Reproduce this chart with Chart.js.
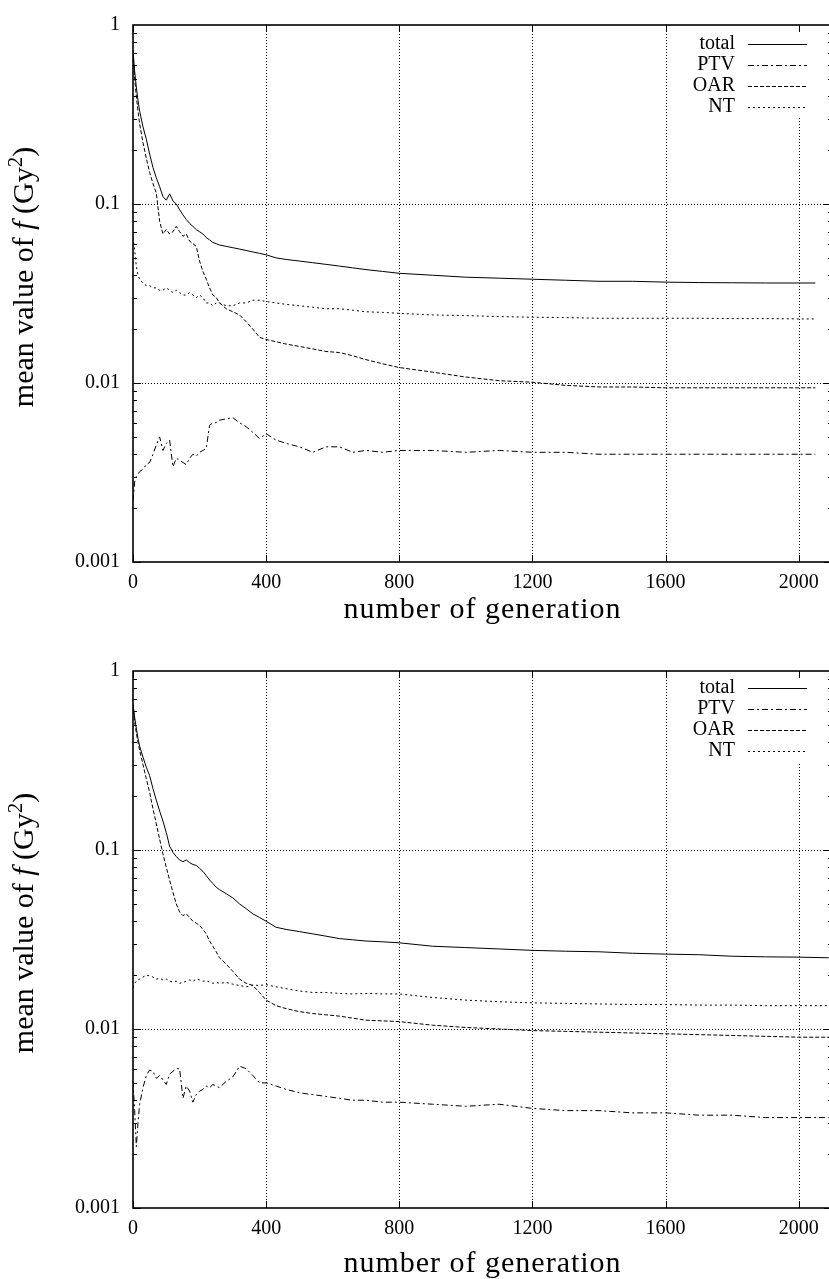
<!DOCTYPE html>
<html><head><meta charset="utf-8">
<script src="https://cdn.jsdelivr.net/npm/chart.js@4"></script>
<style>
html,body{margin:0;padding:0;background:#fff;overflow:hidden;width:829px;height:1279px;}
.wrap{position:absolute;left:0;}
canvas{display:block;}
</style></head><body>
<div class="wrap" style="top:0"><canvas id="c1" width="840" height="646"></canvas></div>
<div class="wrap" style="top:646px"><canvas id="c2" width="840" height="633"></canvas></div>
<script>
const seriesNames = ['total', 'PTV', 'OAR', 'NT'];
const xTicks = [0, 400, 800, 1200, 1600, 2000];
const yTicks = [0.001, 0.01, 0.1, 1];
const yTickLabels = ['0.001', '0.01', '0.1', '1'];
const xTitle = 'number of generation';

const genTop = [0,5,10,15,20,30,40,50,60,70,80,90,100,110,120,130,140,150,160,170,180,190,200,210,220,230,240,250,260,280,300,320,340,360,380,400,430,460,500,540,580,620,660,700,750,800,900,1000,1100,1200,1300,1400,1500,1600,1700,1800,1900,2000,2050];
const topTotal = [0.72,0.55,0.45,0.38,0.33,0.27,0.23,0.19,0.16,0.14,0.125,0.11,0.105,0.114,0.104,0.1,0.093,0.087,0.082,0.078,0.075,0.072,0.07,0.068,0.065,0.063,0.061,0.06,0.059,0.058,0.057,0.056,0.055,0.054,0.053,0.052,0.05,0.049,0.048,0.047,0.046,0.045,0.044,0.043,0.042,0.041,0.040,0.039,0.0385,0.038,0.0375,0.037,0.037,0.0366,0.0364,0.0363,0.0362,0.0362,0.0362];
const topPTV = [0.0022,0.0028,0.003,0.0031,0.0032,0.0033,0.0035,0.0036,0.004,0.0045,0.005,0.0042,0.0046,0.0048,0.0034,0.0038,0.0037,0.0036,0.0035,0.0038,0.004,0.0039,0.0041,0.0042,0.0043,0.0058,0.006,0.006,0.0062,0.0063,0.0064,0.006,0.0057,0.0053,0.0049,0.0052,0.0048,0.0046,0.0044,0.0041,0.0044,0.0044,0.0041,0.0042,0.0041,0.0042,0.0042,0.0041,0.0042,0.0041,0.0041,0.004,0.004,0.004,0.004,0.004,0.004,0.004,0.004];
const topOAR = [0.70,0.5,0.4,0.33,0.28,0.22,0.18,0.15,0.13,0.115,0.08,0.068,0.072,0.068,0.07,0.075,0.07,0.066,0.068,0.062,0.06,0.058,0.048,0.042,0.038,0.034,0.031,0.03,0.028,0.026,0.025,0.024,0.022,0.02,0.018,0.0175,0.017,0.0165,0.016,0.0155,0.015,0.0148,0.0142,0.0135,0.0128,0.0122,0.0115,0.0108,0.0103,0.0101,0.0097,0.0095,0.0095,0.0094,0.0094,0.0094,0.0094,0.0094,0.0094];
const topNT = [0.065,0.055,0.045,0.04,0.038,0.036,0.035,0.035,0.034,0.034,0.033,0.033,0.034,0.033,0.032,0.033,0.032,0.031,0.031,0.032,0.031,0.030,0.031,0.030,0.028,0.028,0.027,0.028,0.028,0.027,0.027,0.028,0.028,0.029,0.029,0.0285,0.028,0.0275,0.027,0.0265,0.026,0.026,0.0255,0.025,0.0248,0.0245,0.024,0.0238,0.0235,0.0233,0.0232,0.023,0.023,0.023,0.023,0.0229,0.0229,0.0228,0.0228];

const genBot = [0,5,10,15,20,30,40,50,60,70,80,90,100,110,120,130,140,150,160,170,180,190,200,210,220,230,240,250,260,280,300,320,340,360,380,400,430,460,500,540,580,620,660,700,750,800,900,1000,1100,1200,1300,1400,1500,1600,1700,1800,1900,2000,2090];
const botTotal = [0.65,0.55,0.48,0.42,0.38,0.33,0.29,0.26,0.22,0.19,0.165,0.145,0.125,0.105,0.097,0.092,0.088,0.086,0.088,0.085,0.083,0.082,0.079,0.076,0.072,0.068,0.065,0.062,0.06,0.057,0.054,0.05,0.047,0.044,0.042,0.040,0.037,0.036,0.035,0.034,0.033,0.032,0.0315,0.031,0.0307,0.0303,0.029,0.0285,0.028,0.0275,0.0272,0.027,0.0265,0.0262,0.026,0.0255,0.0253,0.0252,0.025];
const botPTV = [0.0051,0.0035,0.0022,0.003,0.0038,0.0047,0.0055,0.0059,0.0058,0.0053,0.0055,0.0052,0.0049,0.0056,0.0058,0.006,0.006,0.0041,0.0048,0.0045,0.0039,0.0043,0.0045,0.0046,0.0048,0.0047,0.0049,0.0048,0.0047,0.0051,0.0054,0.0062,0.006,0.0055,0.005,0.005,0.0048,0.0046,0.0044,0.0043,0.0042,0.0041,0.004,0.004,0.0039,0.0039,0.0038,0.0037,0.0038,0.0036,0.0035,0.0035,0.0034,0.0034,0.0033,0.0033,0.0032,0.0032,0.0032];
const botOAR = [0.65,0.52,0.45,0.4,0.36,0.3,0.25,0.21,0.17,0.14,0.115,0.095,0.08,0.068,0.058,0.05,0.045,0.043,0.044,0.042,0.04,0.039,0.038,0.036,0.034,0.031,0.029,0.027,0.025,0.023,0.021,0.019,0.018,0.0175,0.016,0.0145,0.0135,0.013,0.0125,0.0122,0.012,0.0118,0.0115,0.0112,0.0111,0.011,0.0105,0.0102,0.01,0.0098,0.0097,0.0096,0.0095,0.0094,0.0093,0.0092,0.0091,0.009,0.009];
const botNT = [0.017,0.018,0.0185,0.0188,0.019,0.0195,0.02,0.0198,0.0195,0.019,0.0192,0.0188,0.019,0.0185,0.0183,0.0185,0.018,0.0182,0.0185,0.0188,0.0185,0.019,0.0188,0.0185,0.0186,0.0183,0.018,0.0182,0.018,0.0182,0.0178,0.0175,0.0172,0.0176,0.0175,0.0177,0.0172,0.0168,0.0163,0.016,0.016,0.0158,0.0157,0.0158,0.0157,0.0157,0.015,0.0145,0.0142,0.014,0.0139,0.0138,0.0137,0.0137,0.0136,0.0136,0.0135,0.0135,0.0135];

const dashes = { total: [], PTV: [6, 3, 2, 3], OAR: [4, 2], NT: [2, 3] };
const TICK_FONT = '20px "Liberation Serif"';

function strokeLine(ctx, x1, y1, x2, y2) {
  ctx.beginPath(); ctx.moveTo(x1, y1); ctx.lineTo(x2, y2); ctx.stroke();
}

function makeFrame(cfg) {
  return {
    id: 'frame',
    beforeDatasetsDraw(chart) {
      const { ctx, chartArea: a, scales: { x, y } } = chart;
      ctx.save();
      ctx.strokeStyle = '#000';
      ctx.lineWidth = 1;
      ctx.setLineDash([1, 2]);
      xTicks.forEach(v => {
        if (v === 0) return;
        const px = Math.round(x.getPixelForValue(v)) + 0.5;
        strokeLine(ctx, px, a.top, px, a.bottom);
      });
      yTicks.forEach(v => {
        if (v === 1 || v === 0.001) return;
        const py = Math.round(y.getPixelForValue(v)) + 0.5;
        strokeLine(ctx, a.left, py, a.right, py);
      });
      ctx.setLineDash([]);
      ctx.fillStyle = '#fff';
      ctx.fillRect(690, a.top + 8, 130, 84);
      ctx.restore();
    },
    afterDatasetsDraw(chart) {
      const { ctx, chartArea: a, scales: { x, y } } = chart;
      ctx.save();
      ctx.strokeStyle = '#000';
      ctx.setLineDash([]);
      ctx.lineWidth = 1;
      for (let d = -3; d < 0; d++) {
        for (let k = 1; k <= 9; k++) {
          const v = k * Math.pow(10, d);
          const py = Math.round(y.getPixelForValue(v)) + 0.5;
          const len = k === 1 ? 8 : 4;
          strokeLine(ctx, a.left, py, a.left + len, py);
          strokeLine(ctx, a.right, py, a.right - len, py);
        }
      }
      xTicks.forEach(v => {
        const px = Math.round(x.getPixelForValue(v)) + 0.5;
        strokeLine(ctx, px, a.bottom, px, a.bottom - 7);
        strokeLine(ctx, px, a.top, px, a.top + 7);
      });
      ctx.lineWidth = 1.6;
      ctx.strokeRect(a.left, a.top, a.right - a.left, a.bottom - a.top);
      ctx.restore();
    },
    afterDraw(chart) {
      const { ctx, chartArea: a } = chart;
      ctx.save();
      ctx.font = TICK_FONT;
      ctx.fillStyle = '#000';
      ctx.textAlign = 'right';
      ctx.textBaseline = 'middle';
      ctx.lineWidth = 1;
      ctx.strokeStyle = '#000';
      seriesNames.forEach((n, i) => {
        const yy = a.top + cfg.legendTop + i * 21;
        ctx.fillText(n, 735, yy);
        ctx.setLineDash(dashes[n]);
        strokeLine(ctx, 748, Math.round(yy) + 0.5, 807, Math.round(yy) + 0.5);
      });
      ctx.setLineDash([]);
      ctx.font = '30px "Liberation Serif"';
      ctx.letterSpacing = '1px';
      ctx.textAlign = 'center';
      ctx.textBaseline = 'middle';
      ctx.fillText(xTitle, (a.left + a.right) / 2, a.bottom + cfg.xTitleOffset);
      ctx.letterSpacing = '0px';
      const parts = [
        { t: 'mean value of ', f: '30px "Liberation Serif"', dy: 0 },
        { t: 'f', f: 'italic 30px "Liberation Serif"', dy: 0 },
        { t: ' (Gy', f: '30px "Liberation Serif"', dy: 0 },
        { t: '2', f: '21px "Liberation Serif"', dy: -11 },
        { t: ')', f: '30px "Liberation Serif"', dy: 0 }
      ];
      let total = 0;
      parts.forEach(p => { ctx.font = p.f; p.w = ctx.measureText(p.t).width; total += p.w; });
      ctx.translate(cfg.yTitleX, a.top + cfg.yTitleCenter);
      ctx.rotate(-Math.PI / 2);
      ctx.textAlign = 'left';
      ctx.textBaseline = 'alphabetic';
      let cx = -total / 2;
      parts.forEach(p => { ctx.font = p.f; ctx.fillText(p.t, cx, p.dy); cx += p.w; });
      ctx.restore();
    }
  };
}

function buildChart(id, gens, series, cfg) {
  const canvas = document.getElementById(id);
  const H = canvas.height;
  const datasets = seriesNames.map((n, si) => ({
    label: n,
    data: gens.map((g, i) => ({ x: g, y: series[si][i] })),
    borderColor: '#000',
    borderWidth: 1,
    borderDash: dashes[n],
    pointRadius: 0,
    tension: 0,
    fill: false
  }));
  return new Chart(canvas, {
    type: 'line',
    data: { datasets },
    options: {
      responsive: false,
      animation: false,
      events: [],
      layout: { padding: { top: 20, right: 8, left: 0, bottom: 0 } },
      plugins: { legend: { display: false }, tooltip: { enabled: false } },
      scales: {
        x: {
          type: 'linear', min: 0, max: 2100,
          afterBuildTicks: s => { s.ticks = xTicks.map(v => ({ value: v })); },
          afterFit: s => { s.height = H - 562; },
          grid: { display: false, drawTicks: false },
          border: { display: false },
          ticks: { color: '#000', font: { family: 'Liberation Serif', size: 20 }, padding: 9, maxRotation: 0, autoSkip: false, callback: v => String(v) }
        },
        y: {
          type: 'logarithmic', min: 0.001, max: 1,
          afterBuildTicks: s => { s.ticks = yTicks.map(v => ({ value: v })); },
          afterFit: s => { s.width = 133; },
          grid: { display: false, drawTicks: false },
          border: { display: false },
          ticks: { color: '#000', font: { family: 'Liberation Serif', size: 20 }, padding: 13, autoSkip: false, callback: (v, i) => yTickLabels[i] }
        }
      }
    },
    plugins: [makeFrame(cfg)]
  });
}

buildChart('c1', genTop, [topTotal, topPTV, topOAR, topNT], { legendTop: 19, xTitleOffset: 48, yTitleX: 33, yTitleCenter: 252 });
buildChart('c2', genBot, [botTotal, botPTV, botOAR, botNT], { legendTop: 17, xTitleOffset: 56, yTitleX: 33, yTitleCenter: 252 });
</script>
</body></html>
